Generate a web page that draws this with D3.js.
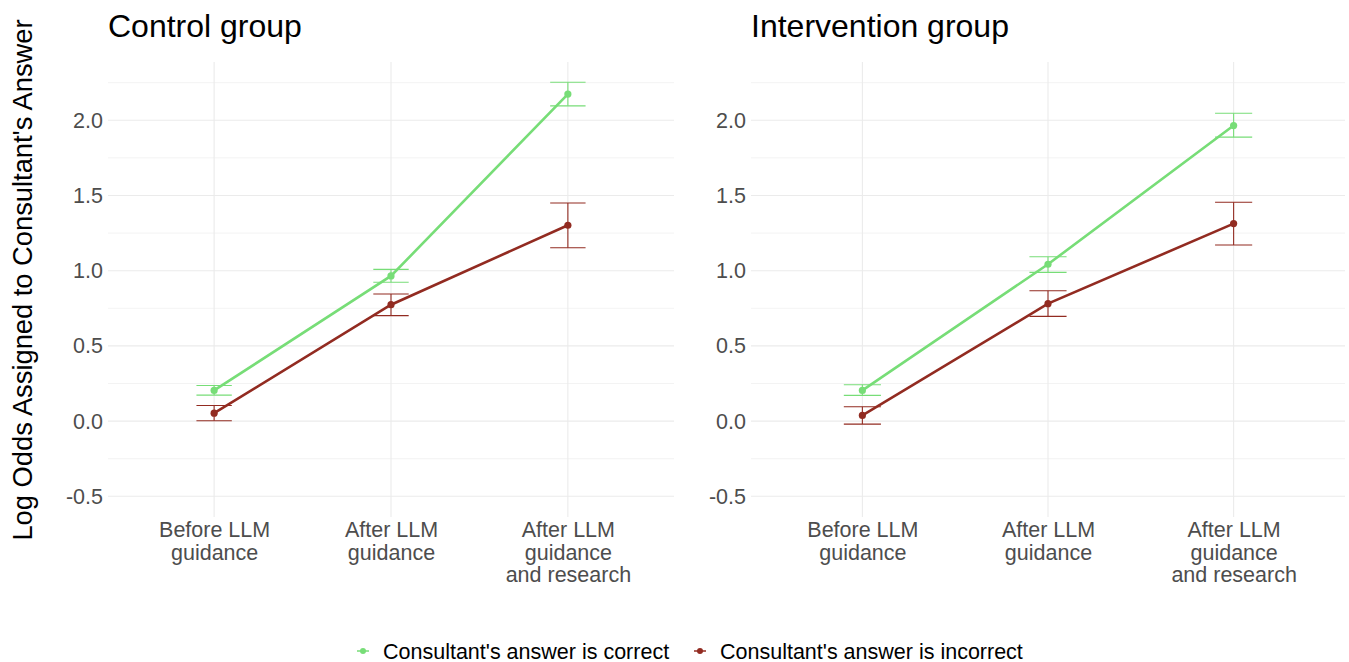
<!DOCTYPE html>
<html>
<head>
<meta charset="utf-8">
<script src="https://cdn.jsdelivr.net/npm/d3@7"></script>
<style>
  html, body { margin: 0; padding: 0; background: #ffffff; }
  svg { display: block; font-family: "Liberation Sans", Arial, Helvetica, sans-serif; }
</style>
</head>
<body>
<svg id="chart" width="1349" height="662"></svg>
<script>
// ---- data ----
const categories = ["Before LLM guidance", "After LLM guidance", "After LLM guidance and research"];
const categoryLabelLines = [["Before LLM", "guidance"], ["After LLM", "guidance"], ["After LLM", "guidance", "and research"]];
const seriesNames = ["Consultant's answer is correct", "Consultant's answer is incorrect"];
const panelTitles = ["Control group", "Intervention group"];
const yTicks = [-0.5, 0.0, 0.5, 1.0, 1.5, 2.0];
const yMinorTicks = [-0.25, 0.25, 0.75, 1.25, 1.75, 2.25];

const controlCorrectMean = [0.204, 0.965, 2.174];
const controlCorrectLow  = [0.173, 0.923, 2.096];
const controlCorrectHigh = [0.237, 1.009, 2.253];
const controlIncorrectMean = [0.053, 0.774, 1.302];
const controlIncorrectLow  = [0.002, 0.701, 1.153];
const controlIncorrectHigh = [0.104, 0.845, 1.450];

const interventionCorrectMean = [0.204, 1.043, 1.965];
const interventionCorrectLow  = [0.171, 0.989, 1.888];
const interventionCorrectHigh = [0.242, 1.093, 2.047];
const interventionIncorrectMean = [0.038, 0.781, 1.313];
const interventionIncorrectLow  = [-0.020, 0.696, 1.171];
const interventionIncorrectHigh = [0.095, 0.867, 1.455];

// ---- layout / style ----
const colors = ["#77dd77", "#922b21"];
const gridColor = "#ebebeb";
const tickColor = "#4d4d4d";

const panels = [
  { title: panelTitles[0], left: 108, right: 674,
    series: [
      { mean: controlCorrectMean, lo: controlCorrectLow, hi: controlCorrectHigh },
      { mean: controlIncorrectMean, lo: controlIncorrectLow, hi: controlIncorrectHigh }
    ] },
  { title: panelTitles[1], left: 751, right: 1345,
    series: [
      { mean: interventionCorrectMean, lo: interventionCorrectLow, hi: interventionCorrectHigh },
      { mean: interventionIncorrectMean, lo: interventionIncorrectLow, hi: interventionIncorrectHigh }
    ] }
];

const plotTop = 62, plotBottom = 517;
const yDomain = [-0.5, 2.25];
const yPad = (yDomain[1] - yDomain[0]) * 0.05;
const y = d3.scaleLinear().domain([yDomain[0] - yPad, yDomain[1] + yPad]).range([plotBottom, plotTop]);

const svg = d3.select("#chart");

panels.forEach(p => {
  const xIdx = d3.scaleLinear().domain([-0.6, categories.length - 1 + 0.6]).range([p.left, p.right]);
  const x = d3.scalePoint().domain(categories).range([xIdx(0), xIdx(categories.length - 1)]);
  const unit = xIdx(1) - xIdx(0);
  const g = svg.append("g");

  g.selectAll(".minor").data(yMinorTicks).join("line")
    .attr("x1", p.left).attr("x2", p.right)
    .attr("y1", d => y(d)).attr("y2", d => y(d))
    .attr("stroke", gridColor).attr("stroke-width", 0.6);
  g.selectAll(".major").data(yTicks).join("line")
    .attr("x1", p.left).attr("x2", p.right)
    .attr("y1", d => y(d)).attr("y2", d => y(d))
    .attr("stroke", gridColor).attr("stroke-width", 1.1);
  g.selectAll(".vgrid").data(categories).join("line")
    .attr("x1", d => x(d)).attr("x2", d => x(d))
    .attr("y1", plotTop).attr("y2", plotBottom)
    .attr("stroke", gridColor).attr("stroke-width", 1.1);

  const yAxis = d3.axisLeft(y).tickValues(yTicks).tickSize(0).tickPadding(5)
    .tickFormat(d => d < 0 ? "-" + Math.abs(d).toFixed(1) : d.toFixed(1));
  const ya = g.append("g").attr("transform", `translate(${p.left},0)`).call(yAxis);
  ya.select(".domain").remove();
  ya.selectAll("text").attr("fill", tickColor).attr("font-size", 21.5)
    .attr("font-family", "Liberation Sans, Arial, sans-serif");

  const xAxis = d3.axisBottom(x).tickSize(0).tickFormat("");
  const xa = g.append("g").attr("transform", `translate(0,${plotBottom})`).call(xAxis);
  xa.select(".domain").remove();
  xa.selectAll(".tick").each(function(d, i) {
    const t = d3.select(this).append("text")
      .attr("fill", tickColor).attr("font-size", 21.5)
      .attr("font-family", "Liberation Sans, Arial, sans-serif")
      .attr("text-anchor", "middle");
    categoryLabelLines[i].forEach((line, j) => {
      t.append("tspan").attr("x", 0).attr("y", 20 + j * 22.5).text(line);
    });
  });

  g.append("text").attr("x", p.left).attr("y", 37)
    .attr("font-size", 32).attr("fill", "#000").text(p.title);

  p.series.forEach((s, si) => {
    const eg = g.append("g").attr("stroke", colors[si]).attr("stroke-width", 1.1).attr("fill", "none");
    categories.forEach((c, ci) => {
      const cx = x(c), hw = unit * 0.1;
      eg.append("line").attr("x1", cx).attr("x2", cx).attr("y1", y(s.lo[ci])).attr("y2", y(s.hi[ci]));
      eg.append("line").attr("x1", cx - hw).attr("x2", cx + hw).attr("y1", y(s.lo[ci])).attr("y2", y(s.lo[ci]));
      eg.append("line").attr("x1", cx - hw).attr("x2", cx + hw).attr("y1", y(s.hi[ci])).attr("y2", y(s.hi[ci]));
    });
  });
  p.series.forEach((s, si) => {
    const line = d3.line().x((d, i) => x(categories[i])).y(d => y(d));
    g.append("path").datum(s.mean).attr("d", line)
      .attr("fill", "none").attr("stroke", colors[si]).attr("stroke-width", 2.6);
  });
  p.series.forEach((s, si) => {
    g.selectAll(null).data(s.mean).join("circle")
      .attr("cx", (d, i) => x(categories[i])).attr("cy", d => y(d))
      .attr("r", 3.6).attr("fill", colors[si]);
  });
});

svg.append("text")
  .attr("transform", `translate(32,280) rotate(-90)`)
  .attr("text-anchor", "middle").attr("font-size", 27.3).attr("fill", "#000")
  .text("Log Odds Assigned to Consultant's Answer");

const legendItems = [{ x: 363, label: seriesNames[0] }, { x: 700, label: seriesNames[1] }];
const lg = svg.append("g");
legendItems.forEach((it, i) => {
  lg.append("line").attr("x1", it.x - 6).attr("x2", it.x + 6).attr("y1", 651).attr("y2", 651)
    .attr("stroke", colors[i]).attr("stroke-width", 1.5);
  lg.append("circle").attr("cx", it.x).attr("cy", 651).attr("r", 3).attr("fill", colors[i]);
  lg.append("text").attr("x", it.x + 20).attr("y", 658.5).attr("font-size", 21.5).attr("fill", "#000").text(it.label);
});
</script>
</body>
</html>
